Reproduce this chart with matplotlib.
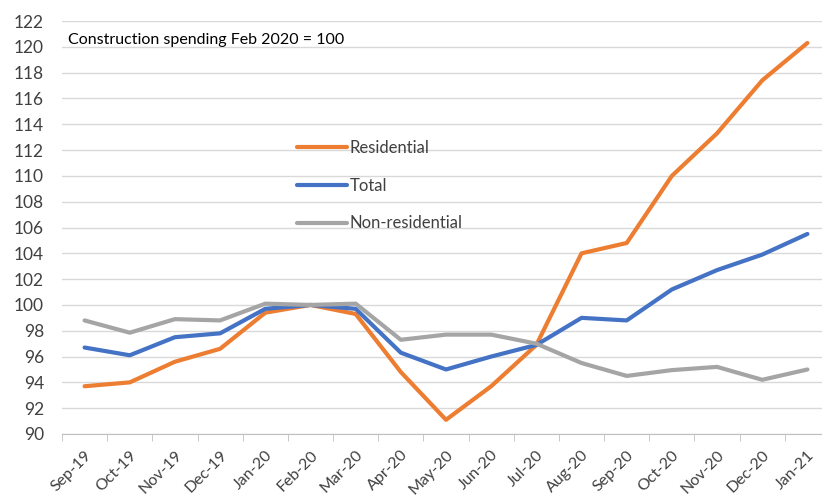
import matplotlib
matplotlib.use("Agg")
import matplotlib.pyplot as plt
import numpy as np

meses = ["Sep-19", "Oct-19", "Nov-19", "Dec-19", "Jan-20", "Feb-20", "Mar-20", "Apr-20",
         "May-20", "Jun-20", "Jul-20", "Aug-20", "Sep-20", "Oct-20", "Nov-20", "Dec-20", "Jan-21"]
residential = [93.7, 94.0, 95.6, 96.6, 99.4, 100.0, 99.3, 94.8, 91.1, 93.7, 96.9,
               104.0, 104.8, 110.0, 113.3, 117.4, 120.3]
total = [96.7, 96.1, 97.5, 97.8, 99.7, 100.0, 99.7, 96.3, 95.0, 96.0, 96.9,
         99.0, 98.8, 101.2, 102.7, 103.9, 105.5]
non_residential = [98.8, 97.85, 98.9, 98.8, 100.1, 100.0, 100.1, 97.3, 97.7, 97.7, 97.0,
                   95.5, 94.5, 94.95, 95.2, 94.2, 95.0]
y_ticks = list(range(90, 123, 2))

plt.rcParams["font.family"] = ["Lato", "DejaVu Sans"]
texto = "#404040"

fig = plt.figure(figsize=(8.22, 4.99), dpi=100)
ax = fig.add_axes([62 / 822, 1 - 434 / 499, 768 / 822, 413 / 499])

x = np.arange(len(meses))
ax.plot(x, residential, color="#ED7D31", lw=3, label="Residential", solid_capstyle="round")
ax.plot(x, total, color="#4472C4", lw=3, label="Total", solid_capstyle="round")
ax.plot(x, non_residential, color="#A5A5A5", lw=3, label="Non-residential", solid_capstyle="round")

ax.set_xlim(-0.5, len(meses) - 0.5)
ax.set_ylim(90, 122)
ax.set_yticks(y_ticks)
ax.set_yticklabels([str(v) for v in y_ticks], fontsize=12.5, color=texto)
ax.tick_params(axis="y", length=0, pad=13)
ax.grid(axis="y", color="#d9d9d9", lw=1)
ax.set_axisbelow(True)

ax.set_xticks(x)
ax.set_xticklabels(meses, rotation=45, ha="right", rotation_mode="anchor",
                   fontsize=11.5, color=texto)
ax.tick_params(axis="x", which="major", length=0, pad=10)
ax.set_xticks(np.arange(-0.5, len(meses), 1), minor=True)
ax.tick_params(axis="x", which="minor", length=5, color="#bfbfbf", direction="out")

for lado in ["top", "right", "left"]:
    ax.spines[lado].set_visible(False)
ax.spines["bottom"].set_color("#bfbfbf")

fig.text(68 / 822, 1 - 40 / 499, "Construction spending Feb 2020 = 100",
         fontsize=11.5, color="black", va="center")

fig.legend(loc="upper left", bbox_to_anchor=(297 / 822, 1 - 140 / 499),
           frameon=False, fontsize=12, handlelength=3.0, handletextpad=0.15,
           labelspacing=1.3, borderpad=0, borderaxespad=0, labelcolor=texto)

fig.savefig("out.png", dpi=100)
plt.close(fig)
